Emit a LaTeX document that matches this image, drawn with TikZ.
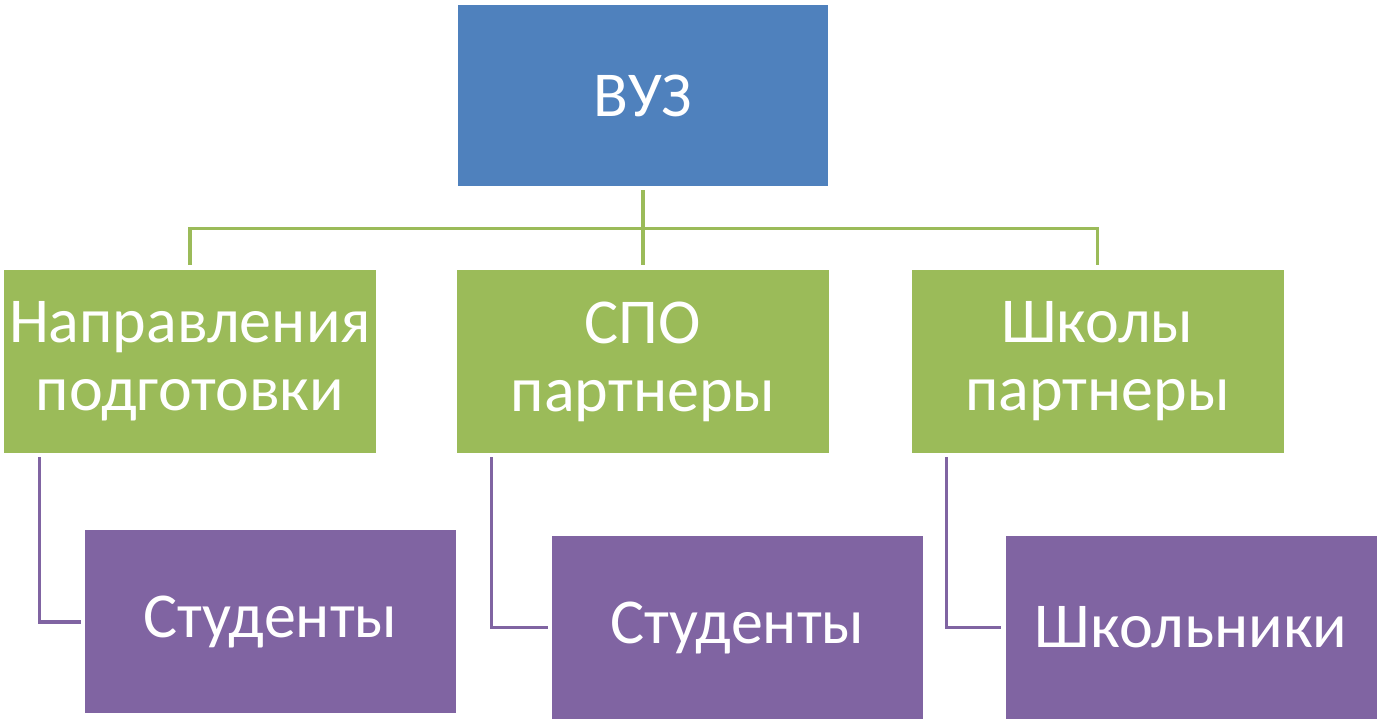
\documentclass[tikz,border=0pt]{standalone}
\usepackage{fontspec}
\setmainfont{Carlito}
\usepackage{xcolor}
\usetikzlibrary{positioning,calc}
\definecolor{UniBlue}{RGB}{79,129,189}
\definecolor{LeafGreen}{RGB}{155,187,89}
\definecolor{PlumPurple}{RGB}{128,100,162}
\tikzset{
  bbox/.style={fill=UniBlue,minimum width=370pt,minimum height=181pt,
               inner sep=0pt,text=white,align=center,
               font=\fontsize{64}{68}\selectfont},
  gbox/.style={fill=LeafGreen,minimum width=372pt,minimum height=183pt,
               inner sep=0pt,text=white,align=center,
               font=\fontsize{64}{68}\selectfont},
  pbox/.style={fill=PlumPurple,minimum width=371pt,minimum height=183pt,
               inner sep=0pt,text=white,align=center,
               font=\fontsize{64}{68}\selectfont},
  glink/.style={LeafGreen,line width=3.2pt,shorten >=5pt,shorten <=4pt},
  plink/.style={PlumPurple,line width=3.2pt,shorten >=4pt,shorten <=4pt},
}
\begin{document}
\begin{tikzpicture}[x=1pt,y=1pt]
    \useasboundingbox (0,0) rectangle (1382,725);
    \node[bbox] (vuz) at (643,629.5) {ВУЗ};
    \node[gbox] (g1) at (190,363.5) {Направления\\подготовки};
    \node[gbox] (g2) at (643,363.5) {СПО\\партнеры};
    \node[gbox] (g3) at (1097.5,363.5) {Школы\\партнеры};
    \node[pbox] (p1) at (270.5,103) {Студенты};
    \node[pbox] (p2) at (737.5,97.5) {Студенты};
    \node[pbox] (p3) at (1191,97.5) {Школьники};
    % tree links
    \draw[glink] (vuz.south) -- ++(0,-42) -| (g1.north);
    \draw[glink] (vuz.south) -- (g2.north);
    \draw[glink] (vuz.south) -- ++(0,-42) -| (g3.north);
    \draw[plink] ([xshift=36pt]g1.south west) |- (p1.west);
    \draw[plink] ([xshift=35pt]g2.south west) |- (p2.west);
    \draw[plink] ([xshift=35pt]g3.south west) |- (p3.west);
\end{tikzpicture}
\end{document}
